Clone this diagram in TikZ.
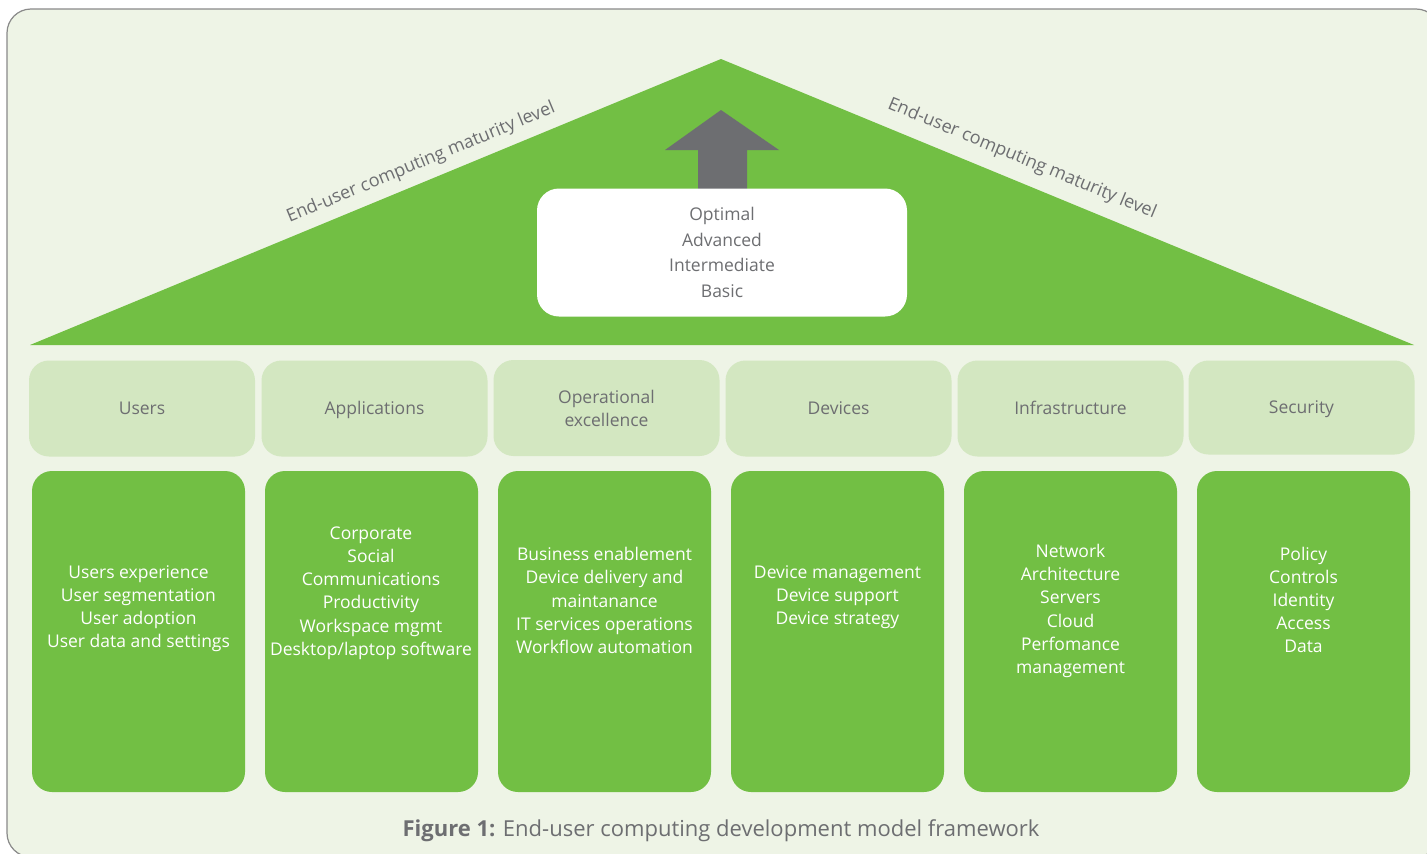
\documentclass[tikz,border=0pt]{standalone}
\usepackage{fontspec}
\setmainfont{Open Sans}
\definecolor{bgc}{HTML}{EEF4E6}
\definecolor{framec}{HTML}{8A8A8A}
\definecolor{grn}{HTML}{72BF44}
\definecolor{lgrn}{HTML}{D3E7C1}
\definecolor{txtg}{HTML}{6D6E71}
\begin{document}
\begin{tikzpicture}[x=1pt,y=-1pt,
  hdr/.style={rectangle, rounded corners=20pt, fill=lgrn, minimum width=226pt, minimum height=96pt, inner sep=0pt, text=txtg, align=center, font=\fontsize{17.5}{23}\selectfont},
  hdrone/.style={hdr, text height=12.5pt, text depth=0pt},
  colbox/.style={rectangle, rounded corners=20pt, fill=grn, minimum width=213pt, minimum height=321pt, inner sep=0pt},
  coltext/.style={text=white, align=center, inner sep=0pt, font=\fontsize{17.5}{23.2}\selectfont},
  rooflabel/.style={text=txtg, inner sep=0pt, font=\fontsize{18}{22}\selectfont},
  levels/.style={rectangle, rounded corners=22pt, fill=white, minimum width=370pt, minimum height=128pt, inner sep=0pt, text=txtg, align=center, font=\fontsize{17.5}{25.5}\selectfont}
]
\useasboundingbox (0,0) rectangle (1427,854);
\fill[white] (0,0) rectangle (1427,854);
\draw[framec, fill=bgc, line width=1.2pt, rounded corners=24pt] (7,9) rectangle (1440,857);

% roof
\fill[grn] (30,345) -- (721,59) -- (1414,345) -- cycle;
\node[rooflabel, rotate=22.5] (rl) at (421,163) {End-user computing maturity level};
\node[rooflabel, rotate=-22.5] (rr) at (1022,159) {End-user computing maturity level};

% arrow
\fill[txtg] (698,191) -- (698,150) -- (665,150) -- (721,110) -- (779,150) -- (747,150) -- (747,191) -- cycle;

% levels box
\node[levels] (lv) at (722,252.5) {Optimal\\Advanced\\Intermediate\\Basic};

% headers
\node[hdrone] (h1) at (142,408.5) {Users};
\node[hdrone] (h2) at (374.5,408.5) {Applications};
\node[hdr] (h3) at (606.5,408) {Operational\\excellence};
\node[hdrone] (h4) at (838.5,408.5) {Devices};
\node[hdrone] (h5) at (1070.5,408.5) {Infrastructure};
\node[hdrone, minimum height=94pt] (h6) at (1301.5,407.5) {Security};

% columns
\node[colbox] (c1) at (138.5,631.5) {};
\node[colbox] (c2) at (371.5,631.5) {};
\node[colbox] (c3) at (604.5,631.5) {};
\node[colbox] (c4) at (837.5,631.5) {};
\node[colbox] (c5) at (1070.5,631.5) {};
\node[colbox] (c6) at (1303.5,631.5) {};

\node[coltext] (t1) at (138.5,608.5) {Users experience\\User segmentation\\User adoption\\User data and settings};
\node[coltext] (t2) at (371,593) {Corporate\\Social\\Communications\\Productivity\\Workspace mgmt\\Desktop/laptop software};
\node[coltext] (t3) at (604.5,600.5) {Business enablement\\Device delivery and\\maintanance\\IT services operations\\Workflow automation};
\node[coltext] (t4) at (837.5,597) {Device management\\Device support\\Device strategy};
\node[coltext] (t5) at (1070.5,611) {Network\\Architecture\\Servers\\Cloud\\Perfomance\\management};
\node[coltext] (t6) at (1303.5,600) {Policy\\Controls\\Identity\\Access\\Data};

% caption
\node[text=txtg, inner sep=0pt, font=\fontsize{22}{26}\selectfont] (cap) at (721,831) {\textbf{Figure 1:} End-user computing development model framework};
\end{tikzpicture}
\end{document}
